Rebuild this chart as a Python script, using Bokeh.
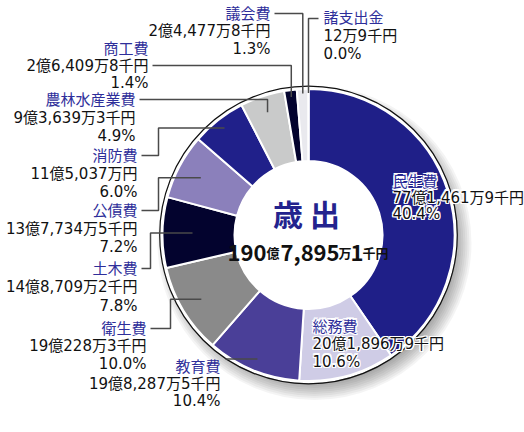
import numpy as np
from bokeh.plotting import figure
from bokeh.models import Range1d, ColumnDataSource
from bokeh.core.properties import value
from bokeh.embed import file_html
from bokeh.resources import INLINE

# ---- data ----
categories = ["民生費", "総務費", "教育費", "衛生費", "土木費", "公債費",
              "消防費", "農林水産業費", "商工費", "議会費", "諸支出金"]
amounts_sen = [7714619, 2018969, 1982875, 1902283, 1487092, 1377345,
               1150370, 936393, 264098, 244778, 129]  # 千円
amount_labels = ["77億1,461万9千円", "20億1,896万9千円", "19億8,287万5千円",
                 "19億228万3千円", "14億8,709万2千円", "13億7,734万5千円",
                 "11億5,037万円", "9億3,639万3千円", "2億6,409万8千円",
                 "2億4,477万8千円", "12万9千円"]
percent_labels = ["40.4%", "10.6%", "10.4%", "10.0%", "7.8%", "7.2%",
                  "6.0%", "4.9%", "1.4%", "1.3%", "0.0%"]
center_title = "歳 出"
total_parts = ["190", "億", "7,895", "万", "1", "千円"]

colors = ["#1f1f88", "#cfcce6", "#4a3f98", "#8a8a8a", "#03032e", "#8b80bb",
          "#20208a", "#c9caca", "#03032e", "#e9e9ee", "#ffffff"]

FONT = value("'DejaVu Sans', 'Noto Sans CJK JP'")
CFONT = value("Noto Sans CJK JP")
NAME_COLOR = "#2e2e9a"

W, H = 524, 432


def Y(py):
    return 432 - py


p = figure(width=W, height=H, x_range=Range1d(0, 524), y_range=Range1d(0, 432),
           output_backend="svg", toolbar_location=None, min_border=0,
           x_axis_type=None, y_axis_type=None)
p.grid.visible = False
p.outline_line_color = None
p.background_fill_color = "white"
p.border_fill_color = "white"

cx, cy = 308, Y(234.5)
R_OUT, R_IN = 146, 74

# shadow
for k in range(10):
    p.circle(x=[cx + 6], y=[cy - 8], radius=139 + k * 2, fill_color="black",
             fill_alpha=0.045, line_color=None)
p.circle(x=[cx], y=[cy], radius=R_IN + 2, fill_color="white", line_color=None)

# wedges
vals = np.array(amounts_sen, dtype=float)
frac = vals / vals.sum()
cum = np.concatenate([[0], np.cumsum(frac)])
start = np.pi / 2 - 2 * np.pi * cum[:-1]
end = np.pi / 2 - 2 * np.pi * cum[1:]
src = ColumnDataSource(dict(start=start, end=end, color=colors))
p.annular_wedge(x=cx, y=cy, inner_radius=R_IN, outer_radius=R_OUT,
                start_angle="start", end_angle="end", direction="clock",
                fill_color="color", line_color="white", line_width=2, source=src)
p.circle(x=[cx], y=[cy], radius=147.3, fill_color=None, line_color="white", line_width=2)
p.circle(x=[cx], y=[cy], radius=148.8, fill_color=None, line_color="#111111", line_width=1.2)

mid = 2 * np.pi * (cum[:-1] + cum[1:]) / 2  # clockwise from top


def endpoint(i, r):
    return cx + r * np.sin(mid[i]), cy + r * np.cos(mid[i])


# label layout: index -> (x, y_name, align, spacing)
layout = {
    9: (270, 13, "right", 17.5),
    10: (323, 17, "left", 18),
    8: (148, 48, "right", 17),
    7: (135, 99, "right", 18),
    6: (137, 155, "right", 18),
    5: (137, 210, "right", 18),
    4: (137, 268, "right", 18.5),
    3: (146, 328, "right", 17.5),
    2: (220, 366, "right", 17),
    0: (392, 181, "left", 16),
    1: (312, 326, "left", 17.5),
}

halo = {0, 1}
for i, (lx, ly, align, sp) in layout.items():
    ys = [Y(ly), Y(ly + sp), Y(ly + 2 * sp)]
    texts = [categories[i], amount_labels[i], percent_labels[i]]
    cols = [NAME_COLOR, "#111111", "#111111"]
    if i in halo:
        for dx in (-1.2, 0, 1.2):
            for dy in (-1.2, 0, 1.2):
                if dx == 0 and dy == 0:
                    continue
                p.text(x=[lx] * 3, y=ys, text=texts, text_font=FONT,
                       text_font_size="15px", text_align=align,
                       text_baseline="middle", text_color="white",
                       x_offset=dx, y_offset=dy)
    for yy, t, c in zip(ys, texts, cols):
        p.text(x=[lx], y=[yy], text=[t], text_font=FONT, text_font_size="15px",
               text_align=align, text_baseline="middle", text_color=c)

# leader lines (pixel-space routes, endpoints at slice mid-angles)
LC, LW = "#4a4a4a", 1.5
routes = []
ex, ey = endpoint(9, 141.5)
routes.append([(274, Y(13)), (ex, Y(13)), (ex, ey)])
ex, ey = endpoint(10, 142)
routes.append([(318, Y(18)), (ex, Y(18)), (ex, ey)])
ex, ey = endpoint(8, 139)
routes.append([(152, Y(65)), (ex, Y(65)), (ex, ey)])
ex, ey = endpoint(7, 129.5)
routes.append([(139, Y(99)), (ex, Y(99)), (ex, ey)])
ex, ey = endpoint(6, 136)
routes.append([(141, Y(155)), (158, Y(155)), (158, ey), (ex, ey)])
ex, ey = endpoint(5, 122)
routes.append([(141, Y(210)), (158, Y(210)), (158, ey), (ex, ey)])
ex, ey = endpoint(4, 116)
routes.append([(141, Y(268)), (150, Y(268)), (150, ey), (ex, ey)])
ex, ey = endpoint(3, 125)
routes.append([(150, Y(328)), (170, Y(328)), (170, ey), (ex, ey)])
ex, ey = endpoint(2, 134)
routes.append([(225, ey), (ex, ey)])
p.multi_line(xs=[[pt[0] for pt in r] for r in routes],
             ys=[[pt[1] for pt in r] for r in routes],
             line_color=LC, line_width=LW)

# center texts
p.text(x=[306], y=[Y(212)], text=[center_title], text_font=CFONT,
       text_font_size="30px", text_font_style="bold", text_align="center",
       text_baseline="middle", text_color="#23238e")
part_x = [227, 266, 280, 338, 350, 362]
part_size = ["22px", "13px", "22px", "13px", "22px", "13px"]
for t, xx, s in zip(total_parts, part_x, part_size):
    p.text(x=[xx], y=[Y(252)], text=[t], text_font=CFONT, text_font_size=s,
           text_font_style="bold", text_align="left", text_baseline="alphabetic",
           text_color="#111111")

open("out.html", "w").write(file_html(p, INLINE))
